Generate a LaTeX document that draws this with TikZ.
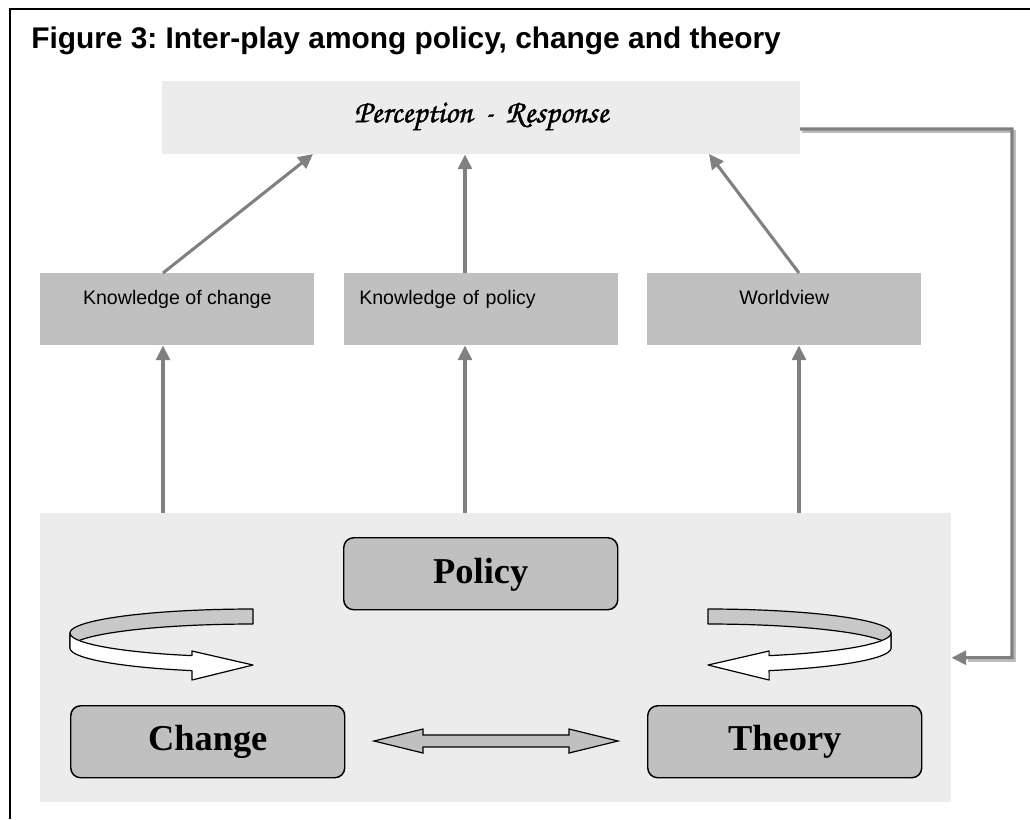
\documentclass[tikz,border=0pt]{standalone}
\usepackage{fontspec}
\setmainfont{Liberation Serif}
\setsansfont{Liberation Sans}
\newfontfamily\chorus[FakeBold=1.2]{TeX Gyre Chorus}
\usetikzlibrary{arrows.meta}
\frenchspacing

\definecolor{boxgray}{HTML}{C0C0C0}
\definecolor{panel}{HTML}{ECECEC}
\definecolor{linkgray}{HTML}{808080}
\definecolor{shadegray}{HTML}{BDBDBD}
\definecolor{backgray}{HTML}{C8C8C8}

% ribbon arrow turning round an ellipse: #1 = x of the cut end and of the tip,
% #2 = 1 when the turn is on the left, -1 when it is on the right
\newcommand\drawribbon[2]{%
  \filldraw[fill=backgray, draw=black, line width=0.9pt, line join=round]
    plot[domain=90:180, samples=40] ({#1+(#2)*183*cos(\x)},{633-24*sin(\x)})
    -- plot[domain=180:90, samples=40] ({#1+(#2)*183*cos(\x)},{648-24*sin(\x)})
    -- cycle;
  \filldraw[fill=white, draw=black, line width=0.9pt, line join=round]
    plot[domain=180:250.5, samples=40] ({#1+(#2)*183*cos(\x)},{633-24*sin(\x)})
    -- ({#1-(#2)*61.1},651) -- (#1,665) -- ({#1-(#2)*61.1},680)
    -- plot[domain=250.5:180, samples=40] ({#1+(#2)*183*cos(\x)},{648-24*sin(\x)})
    -- cycle;
}

\tikzset{
  kbox/.style={fill=boxgray, anchor=north west, minimum width=205.5pt,
    inner xsep=0pt, inner ysep=0pt, text height=23.25pt, text depth=30.75pt,
    font=\sffamily\fontsize{14.7}{17}\selectfont},
  corebox/.style={fill=boxgray, draw=black, line width=1.1pt,
    rounded corners=7.5pt, anchor=north west, minimum width=205.5pt,
    inner sep=0pt, font=\bfseries\fontsize{27.3}{30}\selectfont},
  link/.style={draw=linkgray, line width=2.3pt,
    -{Triangle[length=11pt,width=10.5pt]}},
  linkshade/.style={draw=shadegray, line width=2.3pt},
  dblarrow/.style={fill=boxgray, draw=black, line width=0.9pt, line join=miter},
}

\begin{document}
\begin{tikzpicture}[x=0.75pt,y=-0.75pt]
\useasboundingbox (0,0) rectangle (1030,819);

% frame and title
\draw[line width=1.9pt] (1030,9) -- (10,9) -- (10,819);
\node[anchor=base west, inner sep=0pt,
      font=\sffamily\bfseries\fontsize{22.4}{26}\selectfont] (title) at (31,48)
  {Figure 3: Inter-play among policy, change and theory};

% perception - response
\node[fill=panel, anchor=north west, minimum width=478.5pt, inner sep=0pt,
      text height=30.75pt, text depth=24pt] (pr) at (162,81)
  {\chorus\fontsize{24}{27}\selectfont Perception\hspace{9pt}-\hspace{9pt}Response};

% knowledge boxes
\node[kbox] (kc) at (40,273) {Knowledge of change};
\node[kbox, align=left, text width=183pt, inner xsep=11.25pt] (kp) at (344,273)
  {Knowledge of policy};
\node[kbox] (wv) at (647,273) {Worldview};

% lower panel with the three cores
\node[fill=panel, anchor=north west, minimum width=683.25pt,
      minimum height=216.75pt, inner sep=0pt] (panel) at (40,513) {};
\node[corebox, text height=34.5pt, text depth=19.5pt] (policy) at (343,537) {Policy};
\node[corebox, text height=33.75pt, text depth=20.25pt] (change) at (70,705) {Change};
\node[corebox, text height=33.75pt, text depth=20.25pt] (theory) at (647,705) {Theory};

% turning arrows
\drawribbon{253}{1}
\drawribbon{708}{-1}

% two-headed arrow between change and theory
\coordinate (dl) at (374,741);
\coordinate (dr) at (618,741);
\filldraw[dblarrow] (dl) -- (423,729) -- (423,735) -- (569,735) -- (569,729)
  -- (dr) -- (569,753) -- (569,747) -- (423,747) -- (423,753) -- cycle;

% links from the panel to the knowledge boxes
\coordinate (b1) at (163,513);
\coordinate (b2) at (465,513);
\coordinate (b3) at (799,513);
\draw[link] (b1) -- (b1 |- kc.south);
\draw[link] (b2) -- (b2 |- kp.south);
\draw[link] (b3) -- (b3 |- wv.south);

% links from the knowledge boxes to perception - response
\coordinate (t1) at (313,154);
\coordinate (t3) at (709,154);
\draw[link] (b1 |- kc.north) -- (t1);
\draw[link] (b2 |- kp.north) -- (b2 |- pr.south);
\draw[link] (b3 |- wv.north) -- (t3);

% feedback from perception - response back to the panel
\coordinate (fb0) at (800,129);
\coordinate (fb1) at (1012,129);
\coordinate (fb2) at (1012,657.5);
\draw[linkshade] (802,131.5) -- (1014.5,131.5) -- (1014.5,660) -- (968,660);
\draw[link] (fb0) -- (fb1) -- (fb2) -- (panel.east);
\end{tikzpicture}
\end{document}
